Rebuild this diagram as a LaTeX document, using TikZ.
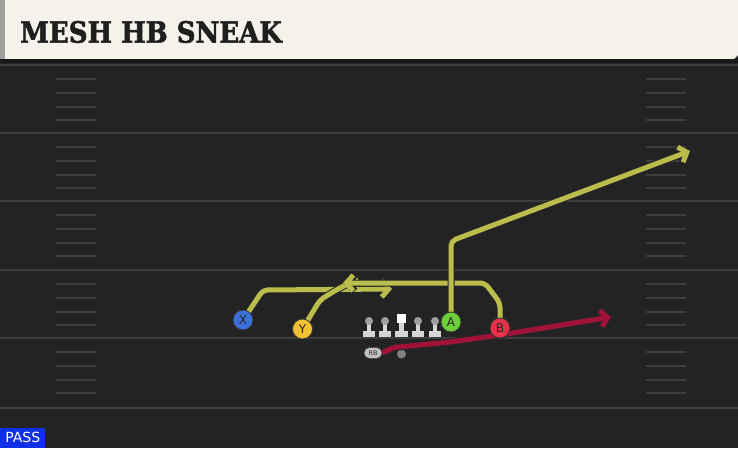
\documentclass[tikz,border=0pt]{standalone}
\usepackage{fontspec}
\setmainfont{DejaVu Sans}
\newfontfamily\titlefont[FakeBold=2]{DejaVu Serif}
\usetikzlibrary{arrows.meta,shapes.misc}
\definecolor{field}{RGB}{35,35,35}
\definecolor{titlebg}{RGB}{245,242,235}
\definecolor{stripe}{RGB}{160,160,158}
\definecolor{yardc}{RGB}{62,62,62}
\definecolor{hashc}{RGB}{62,62,62}
\definecolor{routey}{RGB}{186,188,76}
\definecolor{router}{RGB}{160,18,55}
\definecolor{xblue}{RGB}{58,112,216}
\definecolor{yyellow}{RGB}{242,194,48}
\definecolor{agreen}{RGB}{108,208,58}
\definecolor{bred}{RGB}{232,48,74}
\definecolor{passblue}{RGB}{16,48,230}
\definecolor{headc}{RGB}{160,160,160}
\definecolor{bodyc}{RGB}{214,214,214}
\tikzset{
  yard/.style={draw=yardc, line width=2.5pt},
  hashm/.style={draw=hashc, line width=2pt},
  route/.style={line width=5pt, line join=round, rounded corners=5pt,
    preaction={draw=black!85, line width=7pt}},
  tip/.style={-{Straight Barb[length=7pt,width=16pt]}},
  player/.style={circle, draw=black!80, line width=0.8pt, minimum size=20pt, inner sep=0pt,
    font=\fontsize{12}{12}\selectfont, text=black!85},
  lineman/.pic={
    \fill[bodyc] (-2.2,0) rectangle (2.2,10);
    \fill[bodyc] (-6,10) rectangle (6,15.5);
    \fill[headc] (0,0) circle (4);
  },
  centerman/.pic={
    \fill[bodyc] (-2.2,0) rectangle (2.2,9);
    \fill[bodyc] (-6.5,8) rectangle (6.5,13.5);
    \fill[white] (-4.6,-9) rectangle (4.6,0);
  }
}
\begin{document}
\begin{tikzpicture}[x=1pt,y=-1pt]
\useasboundingbox (0,0) rectangle (738,448);
\fill[field] (0,0) rectangle (738,448);
% title bar
\fill[titlebg] (5,0) -- (738,0) -- (738,55) -- (734,59) -- (5,59) -- cycle;
\fill[stripe] (0,0) rectangle (5,59);
\fill[black!90] (0,59) rectangle (738,62.5);
\node[anchor=west, inner sep=0pt, font=\titlefont\bfseries\fontsize{26}{26}\selectfont, text=black!88] (title) at (20,32) {\scalebox{1}[1.12]{MESH HB SNEAK}};
% yard lines
\foreach \y in {65,133,201,270,338,408} \draw[yard] (0,\y) -- (738,\y);
% hash marks
\foreach \y in {65,133,201,270,338} \foreach \o in {14,27.5,41.5,55} {
  \draw[hashm] (56,\y+\o) -- (96,\y+\o);
  \draw[hashm] (646,\y+\o) -- (686,\y+\o);
}
% players (placed first so routes can start at them)
\node[player, fill=xblue] (X) at (243,320) {X};
\node[player, fill=yyellow] (Y) at (302.5,329) {Y};
\node[player, fill=agreen] (A) at (451,322) {A};
\node[player, fill=bred] (B) at (500,328) {B};
\node[rounded rectangle, fill=bodyc!90!black, draw=black!70, line width=0.6pt, minimum width=18pt, minimum height=11pt, inner sep=0pt, font=\fontsize{6.5}{6.5}\selectfont, text=black!80] (RB) at (373,353) {RB};
\node[circle, fill=black!50, minimum size=9pt, inner sep=0pt] (dot) at (401.5,354) {};
% routes
\draw[route, routey, tip] (X.center) -- (263,290) -- (392,289);
\draw[route, routey] (Y.center) -- (320,300) -- (336,290) -- (358,279);
\draw[route, routey, tip] (B.center) -- (500,303) -- (485,283) -- (343,283);
\draw[route, routey, tip] (A.center) -- (451,241) -- (690,151);
\draw[route, router, tip] (RB.east) -- (393,347.5) -- (450,342) -- (500,335) -- (611,317);
% redraw players on top of routes
\node[player, fill=xblue] at (X) {X};
\node[player, fill=yyellow] at (Y) {Y};
\node[player, fill=agreen] at (A) {A};
\node[player, fill=bred] at (B) {B};
% linemen
\pic at (369,321) {lineman};
\pic at (385,321) {lineman};
\pic at (401.5,323) {centerman};
\pic at (418,321) {lineman};
\pic at (435,321) {lineman};
% pass label
\node[fill=passblue, text=white, anchor=south west, minimum width=45pt, minimum height=20pt, inner sep=0pt, font=\fontsize{14}{14}\selectfont] (pass) at (0,448) {PASS};
\end{tikzpicture}
\end{document}
